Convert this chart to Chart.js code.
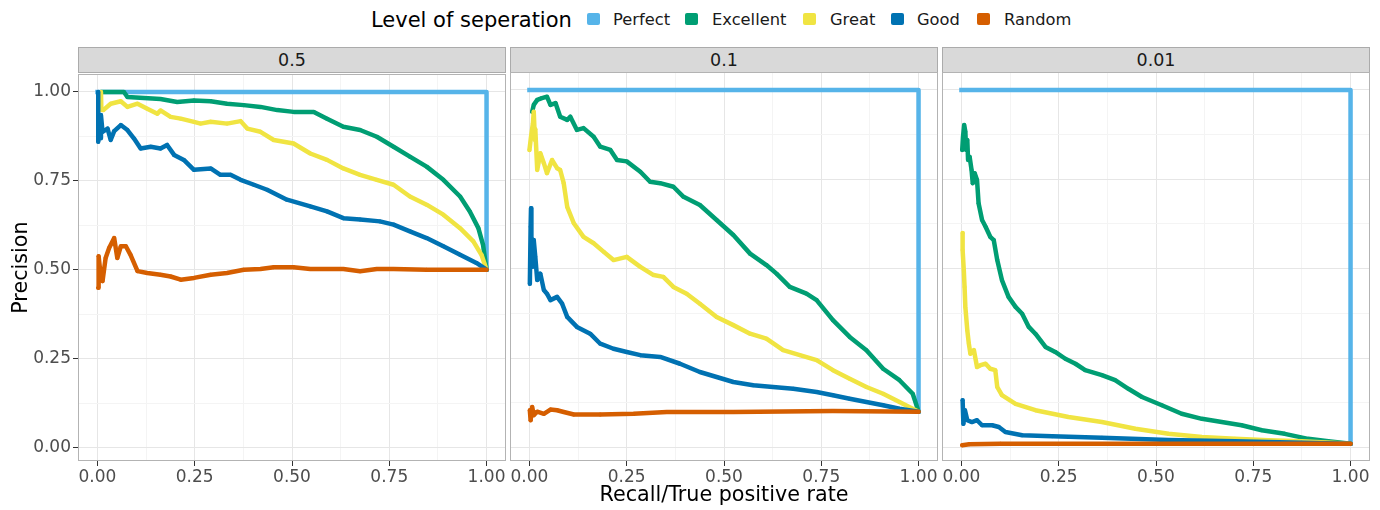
<!DOCTYPE html>
<html>
<head>
<meta charset="utf-8">
<script src="https://cdn.jsdelivr.net/npm/chart.js@4.4.1/dist/chart.umd.min.js"></script>
<style>
    body { margin: 0; width: 1380px; height: 510px; background: #fff; position: relative; overflow: hidden; font-family: "DejaVu Sans", sans-serif; }
    .abs { position: absolute; }
    .strip { position: absolute; top: 47px; height: 26px; box-sizing: border-box; background: #d9d9d9; border: 1px solid #ababab; text-align: center; line-height: 24px; font-size: 17.5px; color: #1a1a1a; }
    .legTitle { position: absolute; left: 371px; top: 10px; font-size: 21px; line-height: 21px; color: #000; }
    .legKey { position: absolute; top: 12.5px; width: 13px; height: 12.5px; border-radius: 2px; }
    .legText { position: absolute; top: 11.5px; font-size: 16.3px; line-height: 16px; color: #1a1a1a; }
</style>
</head>
<body>

<div class="legTitle">Level of seperation</div>
<div id="legend"></div>

<div class="strip" style="left:78px;width:428px;">0.5</div>
<div class="strip" style="left:510px;width:428px;">0.1</div>
<div class="strip" style="left:942px;width:428px;">0.01</div>

<canvas id="p1" class="abs" width="516" height="448" style="left:0px;top:62px;"></canvas>
<canvas id="p2" class="abs" width="448" height="448" style="left:500px;top:62px;"></canvas>
<canvas id="p3" class="abs" width="448" height="448" style="left:932px;top:62px;"></canvas>

<script>
// ===================== DATA =====================
// mức độ phân tách (thứ tự giống legend)
const levels = ['Perfect', 'Excellent', 'Great', 'Good', 'Random'];
const levelColors = ['#56B4E9', '#009E73', '#F0E442', '#0072B2', '#D55E00'];
const prevalences = ['0.5', '0.1', '0.01'];
const axisTicks = [0, 0.25, 0.5, 0.75, 1];

// [recall, precision] — prevalence 0.5
const perfect05 = [[0, 1], [1, 1], [1, 0.5]];
const excellent05 = [[0.009,1.00],[0.068,1.00],[0.077,0.986],[0.162,0.980],[0.205,0.972],[0.248,0.976],[0.291,0.974],[0.333,0.967],[0.376,0.963],[0.419,0.958],[0.462,0.949],[0.504,0.944],[0.556,0.944],[0.590,0.925],[0.632,0.902],[0.675,0.893],[0.718,0.874],[0.761,0.846],[0.803,0.818],[0.846,0.790],[0.889,0.753],[0.932,0.706],[0.957,0.664],[0.979,0.617],[0.991,0.570],[1.000,0.500]];
const great05 = [[0.009,1.00],[0.010,0.950],[0.015,0.949],[0.034,0.967],[0.060,0.974],[0.077,0.958],[0.103,0.967],[0.128,0.953],[0.154,0.939],[0.162,0.948],[0.188,0.930],[0.214,0.925],[0.248,0.916],[0.265,0.911],[0.291,0.916],[0.333,0.911],[0.368,0.918],[0.385,0.897],[0.419,0.888],[0.453,0.865],[0.504,0.855],[0.547,0.827],[0.590,0.809],[0.632,0.785],[0.675,0.767],[0.718,0.753],[0.761,0.739],[0.803,0.706],[0.846,0.683],[0.889,0.655],[0.932,0.617],[0.966,0.580],[0.987,0.542],[1.000,0.500]];
const good05 = [[0.002,1.00],[0.002,0.860],[0.004,0.900],[0.007,0.870],[0.009,0.935],[0.013,0.888],[0.026,0.897],[0.034,0.865],[0.043,0.890],[0.060,0.907],[0.077,0.893],[0.094,0.869],[0.111,0.841],[0.137,0.846],[0.162,0.841],[0.179,0.851],[0.197,0.823],[0.222,0.809],[0.248,0.781],[0.291,0.785],[0.316,0.767],[0.342,0.767],[0.368,0.753],[0.402,0.739],[0.436,0.725],[0.487,0.697],[0.547,0.678],[0.590,0.664],[0.632,0.645],[0.675,0.641],[0.726,0.636],[0.761,0.627],[0.803,0.608],[0.846,0.589],[0.889,0.566],[0.932,0.542],[0.974,0.519],[1.000,0.500]];
const random05 = [[0.002,0.449],[0.003,0.538],[0.007,0.497],[0.013,0.468],[0.021,0.533],[0.030,0.561],[0.043,0.589],[0.051,0.533],[0.060,0.566],[0.073,0.566],[0.085,0.542],[0.103,0.496],[0.128,0.491],[0.162,0.486],[0.188,0.481],[0.214,0.472],[0.248,0.477],[0.291,0.486],[0.333,0.491],[0.376,0.500],[0.419,0.502],[0.453,0.507],[0.504,0.507],[0.547,0.502],[0.632,0.502],[0.675,0.496],[0.718,0.502],[0.761,0.502],[0.846,0.500],[1.000,0.500]];

// prevalence 0.1
const perfect01 = [[0, 1], [1, 1], [1, 0.1]];
const excellent01 = [[0.007,0.939],[0.011,0.958],[0.020,0.972],[0.032,0.977],[0.045,0.981],[0.054,0.958],[0.067,0.963],[0.079,0.925],[0.097,0.916],[0.105,0.925],[0.122,0.888],[0.139,0.893],[0.165,0.869],[0.182,0.841],[0.208,0.832],[0.225,0.804],[0.250,0.800],[0.285,0.771],[0.310,0.743],[0.336,0.739],[0.370,0.729],[0.396,0.701],[0.438,0.678],[0.481,0.636],[0.524,0.594],[0.567,0.542],[0.609,0.510],[0.635,0.486],[0.669,0.449],[0.712,0.430],[0.738,0.412],[0.780,0.356],[0.823,0.309],[0.866,0.272],[0.909,0.220],[0.951,0.188],[0.985,0.150],[1.000,0.100]];
const great01 = [[0.000,0.832],[0.004,0.869],[0.009,0.907],[0.011,0.939],[0.014,0.860],[0.015,0.890],[0.020,0.776],[0.028,0.823],[0.037,0.795],[0.045,0.767],[0.058,0.804],[0.071,0.781],[0.079,0.776],[0.088,0.739],[0.097,0.673],[0.114,0.627],[0.139,0.589],[0.165,0.571],[0.191,0.547],[0.216,0.524],[0.250,0.533],[0.285,0.505],[0.319,0.482],[0.344,0.477],[0.370,0.449],[0.404,0.430],[0.438,0.402],[0.481,0.365],[0.524,0.342],[0.567,0.318],[0.609,0.304],[0.652,0.272],[0.695,0.258],[0.738,0.244],[0.780,0.216],[0.823,0.192],[0.866,0.169],[0.909,0.150],[0.951,0.127],[1.000,0.100]];
const good01 = [[0.001,0.458],[0.003,0.617],[0.004,0.669],[0.005,0.580],[0.008,0.505],[0.011,0.580],[0.015,0.533],[0.020,0.468],[0.028,0.486],[0.037,0.440],[0.045,0.430],[0.054,0.412],[0.071,0.421],[0.084,0.402],[0.097,0.365],[0.122,0.337],[0.156,0.318],[0.182,0.290],[0.216,0.276],[0.250,0.267],[0.285,0.258],[0.336,0.253],[0.387,0.234],[0.438,0.211],[0.481,0.197],[0.524,0.183],[0.575,0.174],[0.626,0.169],[0.678,0.164],[0.738,0.155],[0.780,0.146],[0.823,0.136],[0.866,0.127],[0.909,0.118],[0.951,0.108],[1.000,0.100]];
const random01 = [[0.001,0.104],[0.003,0.076],[0.007,0.113],[0.011,0.090],[0.020,0.100],[0.037,0.094],[0.054,0.106],[0.071,0.104],[0.088,0.099],[0.114,0.092],[0.182,0.092],[0.268,0.094],[0.353,0.099],[0.524,0.099],[0.780,0.102],[1.000,0.100]];

// prevalence 0.01
const perfect001 = [[0, 1], [1, 1], [1, 0.01]];
const excellent001 = [[0.002,0.832],[0.004,0.869],[0.007,0.902],[0.010,0.883],[0.012,0.832],[0.015,0.860],[0.017,0.804],[0.021,0.813],[0.026,0.776],[0.029,0.739],[0.034,0.767],[0.040,0.748],[0.044,0.683],[0.053,0.636],[0.062,0.617],[0.074,0.589],[0.083,0.580],[0.092,0.524],[0.104,0.468],[0.121,0.421],[0.139,0.393],[0.156,0.374],[0.173,0.337],[0.190,0.318],[0.216,0.281],[0.241,0.267],[0.267,0.248],[0.293,0.234],[0.318,0.216],[0.361,0.202],[0.395,0.188],[0.429,0.164],[0.464,0.141],[0.515,0.118],[0.566,0.094],[0.618,0.080],[0.669,0.071],[0.720,0.062],[0.772,0.048],[0.831,0.038],[0.891,0.024],[0.943,0.017],[1.000,0.010]];
const great001 = [[0.003,0.600],[0.003,0.552],[0.006,0.496],[0.008,0.449],[0.010,0.393],[0.015,0.328],[0.019,0.290],[0.023,0.262],[0.032,0.272],[0.040,0.225],[0.049,0.230],[0.062,0.234],[0.074,0.220],[0.087,0.216],[0.092,0.169],[0.104,0.146],[0.139,0.122],[0.190,0.104],[0.275,0.085],[0.361,0.071],[0.447,0.052],[0.532,0.038],[0.618,0.029],[0.703,0.024],[0.789,0.020],[0.874,0.017],[1.000,0.010]];
const good001 = [[0.003,0.132],[0.005,0.066],[0.009,0.104],[0.015,0.076],[0.027,0.071],[0.040,0.076],[0.053,0.062],[0.079,0.062],[0.096,0.057],[0.113,0.043],[0.156,0.034],[0.233,0.031],[0.361,0.027],[0.532,0.021],[0.703,0.017],[0.874,0.013],[1.000,0.010]];
const random001 = [[0.002,0.006],[0.020,0.009],[0.100,0.010],[0.500,0.010],[1.000,0.010]];

const facetSeries = [
    [perfect05, excellent05, great05, good05, random05],
    [perfect01, excellent01, great01, good01, random01],
    [perfect001, excellent001, great001, good001, random001]
];

// ===================== LEGEND =====================
const legendKeyLeft = [587, 685, 803, 891, 977];
const legendTextLeft = [613, 712, 830, 917, 1004];
const legendBox = document.getElementById('legend');
levels.forEach((name, i) => {
    legendBox.innerHTML += `<div class="legKey" style="left:${legendKeyLeft[i]}px;background:${levelColors[i]}"></div>` +
        `<div class="legText" style="left:${legendTextLeft[i]}px">${name}</div>`;
});

// ===================== CHARTS =====================
// lưới phụ ở giữa các vạch chính
const gridValues = [0, 0.125, 0.25, 0.375, 0.5, 0.625, 0.75, 0.875, 1];
const isMajor = v => axisTicks.some(t => Math.abs(t - v) < 1e-6);

// viền panel kiểu ggplot
const panelBorder = {
    id: 'panelBorder',
    afterDatasetsDraw(chart) {
        const a = chart.chartArea, c = chart.ctx;
        c.save();
        c.strokeStyle = '#b3b3b3';
        c.lineWidth = 1;
        c.strokeRect(Math.round(a.left) + 0.5, Math.round(a.top) + 0.5, Math.round(a.right - a.left) - 1, Math.round(a.bottom - a.top) - 1);
        c.restore();
    }
};

function buildChart(canvasId, facetIdx, opts) {
    const datasets = facetSeries[facetIdx].map((pts, i) => ({
        label: levels[i],
        data: pts.map(p => ({ x: p[0], y: p[1] })),
        borderColor: levelColors[i],
        backgroundColor: levelColors[i],
        borderWidth: 4.5,
        pointRadius: i === 0 ? 0 : 2,
        pointBorderWidth: 0,
        tension: 0,
        borderJoinStyle: 'round',
        borderCapStyle: i === 0 ? 'square' : 'round',
        order: levels.length - i
    }));
    return new Chart(document.getElementById(canvasId), {
        type: 'line',
        data: { datasets: datasets },
        plugins: [panelBorder],
        options: {
            responsive: false,
            animation: false,
            devicePixelRatio: 1,
            layout: { padding: { top: 10, right: 10, left: opts.padLeft, bottom: 0 } },
            plugins: { legend: { display: false }, tooltip: { enabled: false } },
            scales: {
                x: {
                    type: 'linear', min: -0.05, max: 1.05,
                    afterBuildTicks: s => { s.ticks = gridValues.map(v => ({ value: v })); },
                    afterFit: s => { s.height = 49; },
                    border: { display: false },
                    grid: {
                        color: ctx => isMajor(ctx.tick.value) ? '#e6e6e6' : '#f4f4f4',
                        tickColor: ctx => isMajor(ctx.tick.value) ? '#333333' : 'rgba(0,0,0,0)',
                        tickLength: 5, lineWidth: 1
                    },
                    ticks: {
                        autoSkip: false, maxRotation: 0, minRotation: 0, padding: 1,
                        color: '#4d4d4d', font: { family: 'DejaVu Sans', size: 17 },
                        callback: v => isMajor(v) ? v.toFixed(2) : ''
                    },
                    title: {
                        display: opts.xTitle, text: 'Recall/True positive rate', color: '#000',
                        font: { family: 'DejaVu Sans', size: 20.7 }, padding: { top: 0, bottom: 2 }
                    }
                },
                y: {
                    type: 'linear', min: -0.038, max: 1.05,
                    afterBuildTicks: s => { s.ticks = gridValues.map(v => ({ value: v })); },
                    afterFit: s => { s.width = opts.yWidth; },
                    border: { display: false },
                    grid: {
                        color: ctx => isMajor(ctx.tick.value) ? '#e6e6e6' : '#f4f4f4',
                        tickColor: ctx => isMajor(ctx.tick.value) ? '#333333' : 'rgba(0,0,0,0)',
                        drawTicks: opts.yLabels, tickLength: 5, lineWidth: 1
                    },
                    ticks: {
                        display: opts.yLabels, autoSkip: false, padding: 2,
                        color: '#4d4d4d', font: { family: 'DejaVu Sans', size: 17 },
                        callback: v => isMajor(v) ? v.toFixed(2) : ''
                    },
                    title: {
                        display: opts.yLabels, text: 'Precision', color: '#000',
                        font: { family: 'DejaVu Sans', size: 20.7 }, padding: { top: 9, bottom: 0 }
                    }
                }
            }
        }
    });
}

buildChart('p1', 0, { padLeft: 0, yWidth: 78, yLabels: true, xTitle: false });
buildChart('p2', 1, { padLeft: 10, yWidth: 0, yLabels: false, xTitle: true });
buildChart('p3', 2, { padLeft: 10, yWidth: 0, yLabels: false, xTitle: false });
</script>
</body>
</html>
